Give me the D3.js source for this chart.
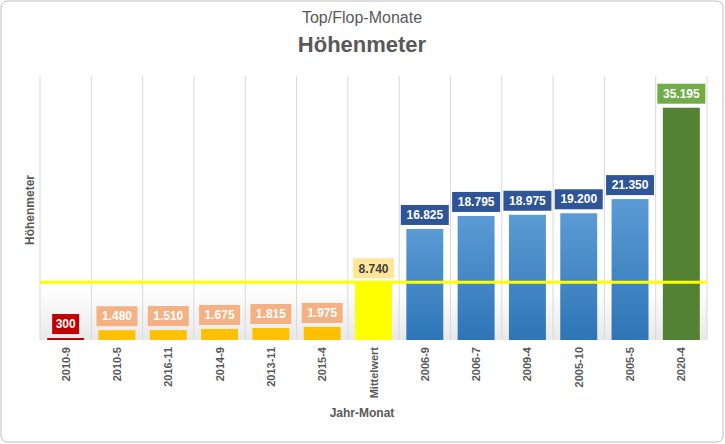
<!DOCTYPE html>
<html><head><meta charset="utf-8">
<script src="https://cdn.jsdelivr.net/npm/d3@7.9.0/dist/d3.min.js"></script>
<style>body{margin:0;background:#fff;font-family:"Liberation Sans",Arial,sans-serif}</style>
</head><body><svg id="c" width="725" height="444"></svg>
<script>
const months = ['2010-9','2010-5','2016-11','2014-9','2013-11','2015-4','Mittelwert','2006-9','2006-7','2009-4','2005-10','2005-5','2020-4'];
const values = [300,1480,1510,1675,1815,1975,8740,16825,18795,18975,19200,21350,35195];
const kinds = ['min','flop','flop','flop','flop','flop','avg','top','top','top','top','top','max'];
const mean = 8740;

const barFill = {min:'#c00000',flop:'#ffc000',avg:'#ffff00',top:'url(#blue)',max:'#548235'};
const labelBg = {min:'#c00000',flop:'#f4b183',avg:'#ffe699',top:'#2f5597',max:'#70ad47'};
const labelFg = {min:'#fff',flop:'#fff',avg:'#404040',top:'#fff',max:'#fff'};

const svg = d3.select('#c');
const defs = svg.append('defs');
const g1 = defs.append('linearGradient').attr('id','blue').attr('x1',0).attr('x2',0).attr('y1',0).attr('y2',1);
g1.append('stop').attr('offset','0%').attr('stop-color','#5b9bd5');
g1.append('stop').attr('offset','100%').attr('stop-color','#2e75b6');
const g2 = defs.append('linearGradient').attr('id','floor').attr('x1',0).attr('x2',0).attr('y1',0).attr('y2',1);
g2.append('stop').attr('offset','0%').attr('stop-color','#fff');
g2.append('stop').attr('offset','100%').attr('stop-color','#d9d9d9');

svg.append('rect').attr('x',1).attr('y',1).attr('width',722).attr('height',441).attr('rx',6)
  .attr('fill','#fff').attr('stroke','#bfbfbf');

const x = d3.scaleBand().domain(months).range([40,707]).paddingInner(0.28).paddingOuter(0.14);
const y = d3.scaleLinear().domain([0,40000]).range([340,76]);

svg.append('rect').attr('x',40).attr('y',290).attr('width',667).attr('height',50).attr('fill','url(#floor)').attr('opacity',0.6);

const step = (707-40)/months.length;
svg.append('g').selectAll('line').data(d3.range(months.length+1)).join('line')
  .attr('x1',d=>40+d*step).attr('x2',d=>40+d*step).attr('y1',76).attr('y2',340)
  .attr('stroke','#d9d9d9');

svg.append('g').selectAll('rect').data(months).join('rect')
  .attr('x',d=>x(d)).attr('width',x.bandwidth())
  .attr('y',(d,i)=>y(values[i])).attr('height',(d,i)=>340-y(values[i]))
  .attr('fill',(d,i)=>barFill[kinds[i]]);

svg.append('line').attr('x1',40).attr('x2',707).attr('y1',y(mean)).attr('y2',y(mean))
  .attr('stroke','#ffff00').attr('stroke-width',3);

const fmt = d3.format(',');
const lab = svg.append('g').selectAll('g').data(months).join('g')
  .attr('transform',(d,i)=>`translate(${x(d)+x.bandwidth()/2},${y(values[i])-14})`);
lab.each(function(d,i){
  const t = fmt(values[i]).replace(/,/g,'.');
  const w = t.length*7 + 6;
  const s = d3.select(this);
  s.append('rect').attr('x',-w/2).attr('y',-10).attr('width',w).attr('height',20).attr('fill',labelBg[kinds[i]]);
  s.append('text').attr('text-anchor','middle').attr('dy','0.35em')
    .attr('font-size',12).attr('font-weight','bold').attr('fill',labelFg[kinds[i]]).text(t);
});

svg.append('g').selectAll('text').data(months).join('text')
  .attr('transform',d=>`translate(${x(d)+x.bandwidth()/2+4},347) rotate(-90)`)
  .attr('text-anchor','end').attr('font-size',11).attr('font-weight','bold').attr('fill','#595959')
  .text(d=>d);

svg.append('text').attr('x',362).attr('y',23).attr('text-anchor','middle').attr('font-size',16).attr('fill','#595959').text('Top/Flop-Monate');
svg.append('text').attr('x',362).attr('y',52).attr('text-anchor','middle').attr('font-size',22).attr('font-weight','bold').attr('fill','#595959').text('Höhenmeter');
svg.append('text').attr('x',362).attr('y',417).attr('text-anchor','middle').attr('font-size',12).attr('font-weight','bold').attr('fill','#595959').text('Jahr-Monat');
svg.append('text').attr('transform','translate(34,210) rotate(-90)').attr('text-anchor','middle').attr('font-size',12).attr('font-weight','bold').attr('fill','#595959').text('Höhenmeter');
</script></body></html>
